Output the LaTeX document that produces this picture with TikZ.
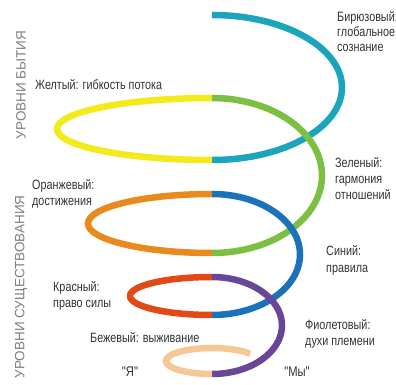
\documentclass[tikz,border=0pt]{standalone}
\usepackage{fontspec}
\setmainfont{Liberation Sans}
\newfontfamily\narrowfont[FakeStretch=0.8]{Liberation Sans}
\definecolor{cturq}{HTML}{1AA5BD}
\definecolor{cyellow}{HTML}{F2EA1A}
\definecolor{cgreen}{HTML}{7CC043}
\definecolor{corange}{HTML}{E98A1F}
\definecolor{cblue}{HTML}{1A72BA}
\definecolor{cred}{HTML}{E14A17}
\definecolor{cpurple}{HTML}{6A4696}
\definecolor{cbeige}{HTML}{F5C794}
\definecolor{labelgray}{HTML}{333333}
\definecolor{sidegray}{HTML}{808080}
\tikzset{
  arcline/.style={line width=6.5pt, line cap=butt},
  lbl/.style={anchor=base west, font=\narrowfont\fontsize{13.5}{15}\selectfont, text=labelgray, inner sep=0pt},
  qlbl/.style={anchor=base, font=\narrowfont\fontsize{14}{15}\selectfont, text=labelgray, inner sep=0pt},
  vlbl/.style={font=\fontsize{13.5}{16}\selectfont, text=sidegray, rotate=90, inner sep=0pt}
}
\begin{document}
\begin{tikzpicture}[x=1pt,y=1pt]
\fill[white] (0,0) rectangle (396,385);
\clip (0,0) rectangle (396,385);
% spiral
\draw[arcline, cturq]   (212,370) arc[start angle=90, end angle=-90, x radius=130, y radius=72.5];
\draw[arcline, cyellow] (212,287) arc[start angle=90, end angle=270, x radius=155, y radius=31];
\draw[arcline, cgreen]  (212,287) arc[start angle=90, end angle=-90, x radius=110, y radius=77.5];
\draw[arcline, corange] (212,191) arc[start angle=90, end angle=270, x radius=124, y radius=29.5];
\draw[arcline, cblue]   (212,191) arc[start angle=90, end angle=-90, x radius=88, y radius=60.5];
\draw[arcline, cred]    (212,108) arc[start angle=90, end angle=270, x radius=82, y radius=19];
\draw[arcline, cpurple] (212,108) arc[start angle=90, end angle=-90, x radius=70, y radius=48.5];
\draw[arcline, cbeige]  (212,24) ++(34:46 and 13) arc[start angle=34, end angle=270, x radius=46, y radius=13];
% side labels
\node[vlbl] (sideA) at (21,300) {УРОВНИ БЫТИЯ};
\node[vlbl] (sideB) at (21,98) {УРОВНИ СУЩЕСТВОВАНИЯ};
% labels
\node[lbl] (t1) at (337,363.5) {Бирюзовый:};
\node[lbl] (t2) at (337,348.5) {глобальное};
\node[lbl] (t3) at (337,333.5) {сознание};
\node[lbl] (y1) at (35,295.5) {Желтый: гибкость потока};
\node[lbl] (g1) at (335,217.5) {Зеленый:};
\node[lbl] (g2) at (335,201.5) {гармония};
\node[lbl] (g3) at (335,185.5) {отношений};
\node[lbl] (o1) at (32,195.5) {Оранжевый:};
\node[lbl] (o2) at (32,179) {достижения};
\node[lbl] (b1) at (326,129) {Синий:};
\node[lbl] (b2) at (326,112) {правила};
\node[lbl] (r1) at (53,93) {Красный:};
\node[lbl] (r2) at (53,77.5) {право силы};
\node[lbl] (p1) at (305,55.5) {Фиолетовый:};
\node[lbl] (p2) at (305,39) {духи племени};
\node[lbl] (be1) at (90,42.5) {Бежевый: выживание};
\node[qlbl] (ya) at (130,8.5) {"Я"};
\node[qlbl] (my) at (297,8.5) {"Мы"};
\end{tikzpicture}
\end{document}
